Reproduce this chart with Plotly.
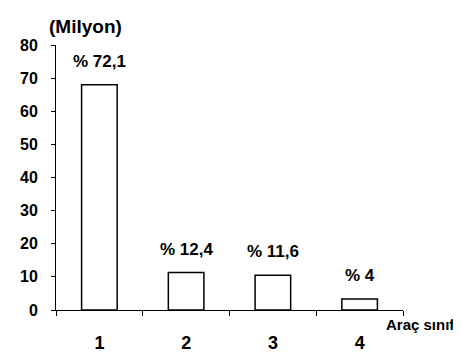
import plotly.graph_objects as go

categories = ["1", "2", "3", "4"]
values = [68, 11.3, 10.5, 3.3]
pct_labels = ["% 72,1", "% 12,4", "% 11,6", "% 4"]
y_ticks = [0, 10, 20, 30, 40, 50, 60, 70, 80]
y_title = "(Milyon)"
x_title = "Araç sınıfı"

FONT = "Liberation Sans, Arial, sans-serif"

fig = go.Figure()
fig.add_trace(go.Bar(
    x=categories, y=values, width=0.41,
    marker=dict(color="white", line=dict(color="black", width=1.5)),
    showlegend=False, hoverinfo="skip",
))

for i, (v, t) in enumerate(zip(values, pct_labels)):
    fig.add_annotation(x=i, y=v, text=t, showarrow=False, xanchor="center",
                       yanchor="bottom", yshift=12,
                       font=dict(family=FONT, size=17, color="black", weight="bold"))

fig.add_annotation(xref="paper", yref="paper", x=-0.025, y=1.0, text=y_title,
                   showarrow=False, xanchor="left", yanchor="bottom", yshift=6,
                   font=dict(family=FONT, size=19, color="black", weight="bold"))
fig.add_annotation(xref="paper", yref="paper", x=0.945, y=0, text=x_title,
                   showarrow=False, xanchor="left", yanchor="top", yshift=-4,
                   font=dict(family=FONT, size=15, color="black", weight="bold"))

fig.update_layout(
    width=461, height=357,
    margin=dict(l=43, r=66, t=37, b=48),
    paper_bgcolor="white", plot_bgcolor="white",
)
fig.update_xaxes(
    type="category", range=[-0.5, 3.5], tickson="boundaries",
    showline=True, linecolor="black", linewidth=1,
    ticks="outside", ticklen=5, tickcolor="black", tickwidth=1,
    ticklabelstandoff=16,
    tickfont=dict(family=FONT, size=18, color="black", weight="bold"),
    showgrid=False, zeroline=False,
)
fig.update_yaxes(
    range=[0, 80], tickvals=y_ticks,
    showline=True, linecolor="black", linewidth=1,
    ticks="outside", ticklen=4, tickcolor="black", tickwidth=1,
    ticklabelstandoff=10,
    tickfont=dict(family=FONT, size=16, color="black", weight="bold"),
    showgrid=False, zeroline=False,
)

fig.write_html("out.html")
